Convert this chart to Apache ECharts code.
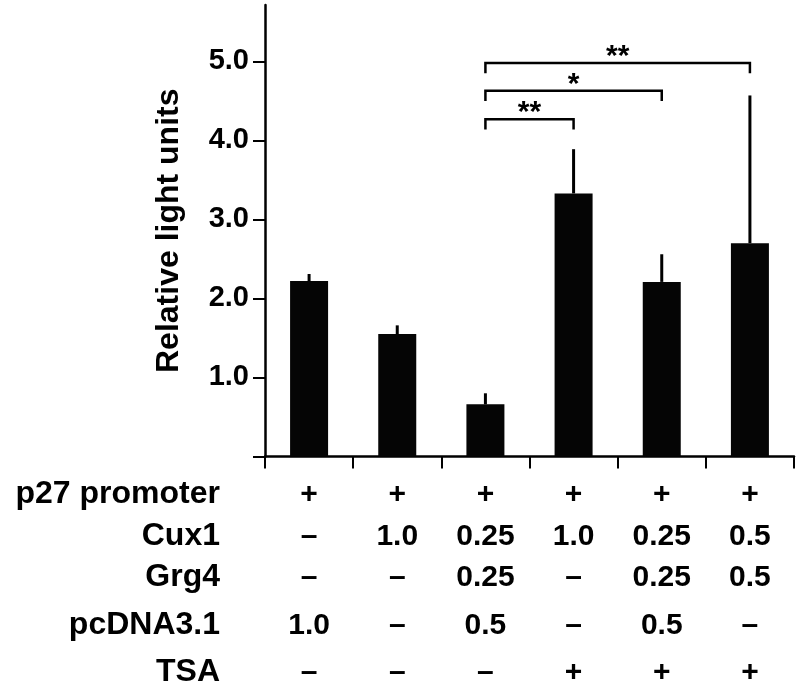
<!DOCTYPE html>
<html>
<head>
<meta charset="utf-8">
<script src="https://cdn.jsdelivr.net/npm/echarts@6/dist/echarts.min.js"></script>
<style>
  html, body { margin: 0; padding: 0; background: #fff; }
  #chart { width: 800px; height: 700px; }
</style>
</head>
<body>
<div id="chart"></div>
<script>
// ---- data ----
const categories = ['pcDNA3.1', 'Cux1', 'Cux1+Grg4', 'Cux1+TSA', 'Cux1+Grg4+TSA', 'Cux1+Grg4+TSA(0.5)'];
const values = [2.22, 1.55, 0.66, 3.33, 2.21, 2.70];
const errors = [0.09, 0.11, 0.14, 0.56, 0.35, 1.87];
const yTickValues = [1, 2, 3, 4, 5];
const yAxisTitle = 'Relative light units';

const rowNames = ['p27 promoter', 'Cux1', 'Grg4', 'pcDNA3.1', 'TSA'];
const p27Row = ['+', '+', '+', '+', '+', '+'];
const cux1Row = ['–', '1.0', '0.25', '1.0', '0.25', '0.5'];
const grg4Row = ['–', '–', '0.25', '–', '0.25', '0.5'];
const pcdnaRow = ['1.0', '–', '0.5', '–', '0.5', '–'];
const tsaRow = ['–', '–', '–', '+', '+', '+'];

const bracketFrom = [2, 2, 2];
const bracketTo = [3, 4, 5];
const bracketLevel = [4.27, 4.63, 4.98];
const bracketStars = ['**', '*', '**'];

// ---- layout / style ----
const FONT = "'Liberation Sans', Arial, Helvetica, sans-serif";
const rows = [p27Row, cux1Row, grg4Row, pcdnaRow, tsaRow];
const rowOffsets = [38, 80, 121, 169, 216];
const bracketDrop = 0.13;

const chart = echarts.init(document.getElementById('chart'), null, { renderer: 'canvas' });

const xAxes = [{
  type: 'category',
  data: categories,
  gridIndex: 0,
  position: 'bottom',
  boundaryGap: true,
  axisLine: { show: true, lineStyle: { color: '#000', width: 2.5 } },
  axisTick: { show: true, interval: 0, length: 12, inside: false, lineStyle: { color: '#000', width: 2 } },
  axisLabel: { show: false, interval: 0 },
  splitLine: { show: false }
}];
rows.forEach((row, k) => {
  xAxes.push({
    type: 'category',
    data: row,
    gridIndex: 0,
    position: 'bottom',
    offset: rowOffsets[k],
    min: 0,
    max: row.length - 1,
    boundaryGap: true,
    name: rowNames[k],
    nameLocation: 'start',
    nameGap: 45,
    nameTextStyle: { fontFamily: FONT, fontWeight: 'bold', fontSize: 32, color: '#000', align: 'right', verticalAlign: 'middle' },
    axisLine: { show: false },
    axisTick: { show: false },
    splitLine: { show: false },
    axisLabel: {
      show: true, interval: 0, margin: 0, verticalAlign: 'middle',
      fontFamily: FONT, fontWeight: 'bold', fontSize: 30, color: '#000'
    }
  });
});

const option = {
  backgroundColor: '#fff',
  animation: false,
  grid: { left: 265, right: 6, top: 5, bottom: 243.5, containLabel: false },
  xAxis: xAxes,
  yAxis: {
    type: 'value',
    min: 0,
    max: 5.715,
    name: yAxisTitle,
    nameLocation: 'middle',
    nameGap: 80,
    nameTextStyle: { fontFamily: FONT, fontWeight: 'bold', fontSize: 32, color: '#000' },
    axisLine: { show: true, lineStyle: { color: '#000', width: 2.5 } },
    axisTick: { show: true, length: 12, customValues: [0].concat(yTickValues), lineStyle: { color: '#000', width: 2 } },
    axisLabel: {
      show: true, customValues: yTickValues, margin: 16,
      formatter: v => Number(v).toFixed(1),
      fontFamily: FONT, fontWeight: 'bold', fontSize: 29, color: '#000'
    },
    splitLine: { show: false }
  },
  series: [
    {
      type: 'bar',
      xAxisIndex: 0,
      data: values,
      barWidth: 38,
      itemStyle: { color: '#050505' }
    },
    {
      type: 'custom',
      xAxisIndex: 0,
      z: 3,
      encode: { x: 0, y: 1 },
      data: values.map((v, i) => [i, v, errors[i]]),
      renderItem: function (params, api) {
        const i = api.value(0), v = api.value(1), e = api.value(2);
        const p0 = api.coord([i, v]);
        const p1 = api.coord([i, v + e]);
        return {
          type: 'line',
          shape: { x1: p0[0], y1: p0[1], x2: p1[0], y2: p1[1] },
          style: { stroke: '#000', lineWidth: 3 }
        };
      }
    },
    {
      type: 'custom',
      xAxisIndex: 0,
      z: 4,
      encode: { x: [0, 1], y: 2 },
      data: bracketFrom.map((f, k) => [f, bracketTo[k], bracketLevel[k]]),
      renderItem: function (params, api) {
        const a = api.value(0), b = api.value(1), lv = api.value(2);
        const pA0 = api.coord([a, lv - bracketDrop]);
        const pA1 = api.coord([a, lv]);
        const pB1 = api.coord([b, lv]);
        const pB0 = api.coord([b, lv - bracketDrop]);
        return {
          type: 'group',
          children: [
            {
              type: 'polyline',
              shape: { points: [pA0, pA1, pB1, pB0] },
              style: { stroke: '#000', lineWidth: 2.5, fill: null }
            },
            {
              type: 'text',
              style: {
                text: bracketStars[params.dataIndex],
                x: (pA1[0] + pB1[0]) / 2,
                y: pA1[1] - 6,
                align: 'center',
                verticalAlign: 'middle',
                fontFamily: FONT, fontWeight: 'bold', fontSize: 30, fill: '#000'
              }
            }
          ]
        };
      }
    }
  ]
};
chart.setOption(option);
</script>
</body>
</html>
